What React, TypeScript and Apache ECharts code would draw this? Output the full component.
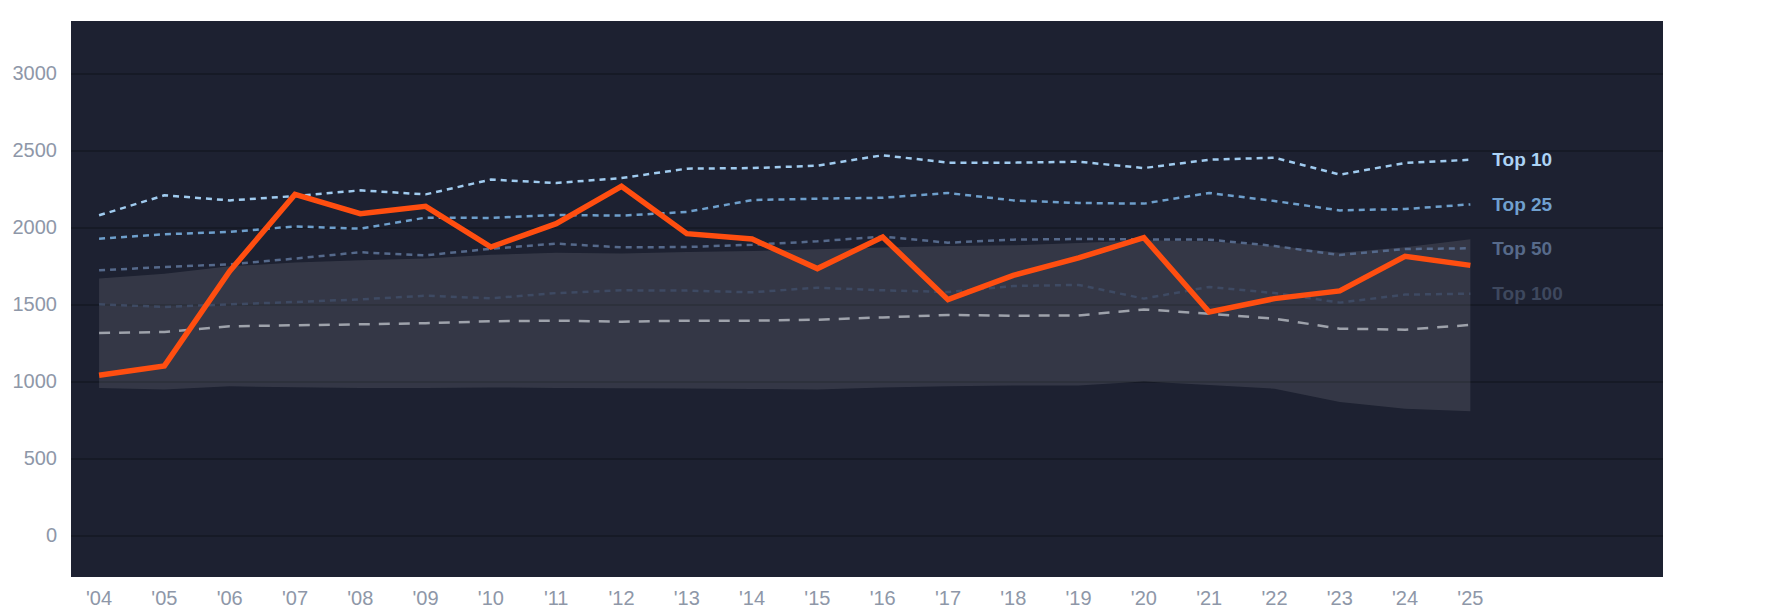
import React, { useEffect, useRef } from "react";
import * as echarts from "echarts";

const years = [2004, 2005, 2006, 2007, 2008, 2009, 2010, 2011, 2012, 2013, 2014, 2015, 2016, 2017, 2018, 2019, 2020, 2021, 2022, 2023, 2024, 2025];
const yTicks = [0, 500, 1000, 1500, 2000, 2500, 3000];

const top10 = [2078, 2208, 2175, 2203, 2240, 2214, 2310, 2288, 2320, 2381, 2385, 2400, 2468, 2420, 2420, 2426, 2385, 2439, 2452, 2342, 2418, 2439];
const top25 = [1926, 1955, 1970, 2006, 1991, 2063, 2061, 2080, 2076, 2100, 2177, 2186, 2192, 2223, 2175, 2158, 2154, 2223, 2171, 2110, 2119, 2149];
const top50 = [1721, 1742, 1760, 1797, 1838, 1818, 1861, 1894, 1870, 1872, 1887, 1909, 1940, 1900, 1920, 1924, 1922, 1920, 1879, 1820, 1859, 1864];
const top100 = [1500, 1483, 1500, 1515, 1532, 1556, 1539, 1573, 1591, 1589, 1578, 1608, 1591, 1580, 1619, 1626, 1537, 1613, 1573, 1511, 1563, 1569];
const median = [1314, 1320, 1357, 1364, 1370, 1377, 1390, 1394, 1387, 1394, 1394, 1400, 1415, 1431, 1426, 1428, 1467, 1439, 1407, 1342, 1335, 1366];
const highlight = [1039, 1100, 1715, 2214, 2089, 2136, 1872, 2024, 2266, 1959, 1924, 1732, 1937, 1530, 1688, 1801, 1933, 1450, 1537, 1587, 1812, 1753];
const bandHigh = [1667, 1699, 1747, 1771, 1786, 1797, 1822, 1835, 1830, 1840, 1846, 1857, 1869, 1879, 1883, 1898, 1916, 1910, 1880, 1835, 1870, 1922];
const bandLow = [957, 946, 968, 961, 957, 957, 960, 957, 955, 954, 950, 946, 959, 968, 972, 972, 998, 976, 952, 866, 822, 805];

const FONT = "'Liberation Sans', Arial, Helvetica, sans-serif";

export default function App() {
  const ref = useRef<HTMLDivElement>(null);

  useEffect(() => {
    document.body.style.margin = "0";
    const chart = echarts.init(ref.current as HTMLDivElement, null, { renderer: "svg" });
    const pairs = (arr: number[]) => years.map((y, i) => [y, arr[i]]);

    const dotted = (name: string, data: number[], color: string, labelColor: string, z: number) => ({
      name,
      type: "line",
      data: pairs(data),
      showSymbol: false,
      symbol: "none",
      z,
      lineStyle: { color, width: 2.5, type: [6, 5] },
      endLabel: {
        show: true,
        formatter: name,
        color: labelColor,
        fontWeight: "bold",
        fontSize: 19,
        fontFamily: FONT,
        distance: 22,
      },
    });

    const option = {
      animation: false,
      backgroundColor: "#ffffff",
      grid: {
        left: 71,
        right: 122,
        top: 21,
        bottom: 37,
        show: true,
        backgroundColor: "#1d2131",
        borderWidth: 0,
      },
      xAxis: {
        type: "value",
        min: 2003.57,
        max: 2027.95,
        splitLine: { show: false },
        axisLine: { show: false },
        axisTick: { show: false },
        axisLabel: {
          customValues: years,
          formatter: (v: number) => "'" + String(v).slice(2),
          color: "#8e97a8",
          fontSize: 20,
          fontFamily: FONT,
          margin: 11,
        },
      },
      yAxis: {
        type: "value",
        min: -271,
        max: 3340,
        splitLine: { show: false },
        axisLine: { show: false },
        axisTick: { show: false },
        axisLabel: {
          customValues: yTicks,
          formatter: (v: number) => String(v),
          color: "#8e97a8",
          fontSize: 20,
          fontFamily: FONT,
          margin: 14,
        },
      },
      series: [
        {
          name: "grid",
          type: "line",
          data: [[2003.57, 0]],
          showSymbol: false,
          symbol: "none",
          lineStyle: { opacity: 0 },
          z: 1,
          silent: true,
          markLine: {
            silent: true,
            z: 1,
            symbol: "none",
            label: { show: false },
            lineStyle: { color: "#161a26", width: 2, type: "solid" },
            data: yTicks.map((v) => ({ yAxis: v })),
          },
        },
        {
          name: "band",
          type: "custom",
          data: [[years[0], bandLow[0]]],
          z: 3,
          silent: true,
          renderItem: (params: any, api: any) => {
            const upper = years.map((y, i) => api.coord([y, bandHigh[i]]));
            const lower = years.map((y, i) => api.coord([y, bandLow[i]])).reverse();
            return {
              type: "polygon",
              shape: { points: upper.concat(lower) },
              style: { fill: "rgba(255,255,255,0.1)" },
            };
          },
        },
        {
          name: "median",
          type: "line",
          data: pairs(median),
          showSymbol: false,
          symbol: "none",
          z: 4,
          lineStyle: { color: "#9ea2ab", width: 2.5, type: [11, 9] },
        },
        dotted("Top 100", top100, "#3e4a63", "#3e485e", 5),
        dotted("Top 50", top50, "#55698b", "#576a8a", 6),
        dotted("Top 25", top25, "#6e9fcc", "#70a0cf", 7),
        dotted("Top 10", top10, "#a0cbef", "#acd3f5", 8),
        {
          name: "highlight",
          type: "line",
          data: pairs(highlight),
          showSymbol: false,
          symbol: "none",
          z: 10,
          lineStyle: { color: "#ff4e10", width: 5.5, join: "miter" },
        },
      ],
    };

    chart.setOption(option as any);
    return () => chart.dispose();
  }, []);

  return <div ref={ref} style={{ width: 1785, height: 614 }} />;
}
